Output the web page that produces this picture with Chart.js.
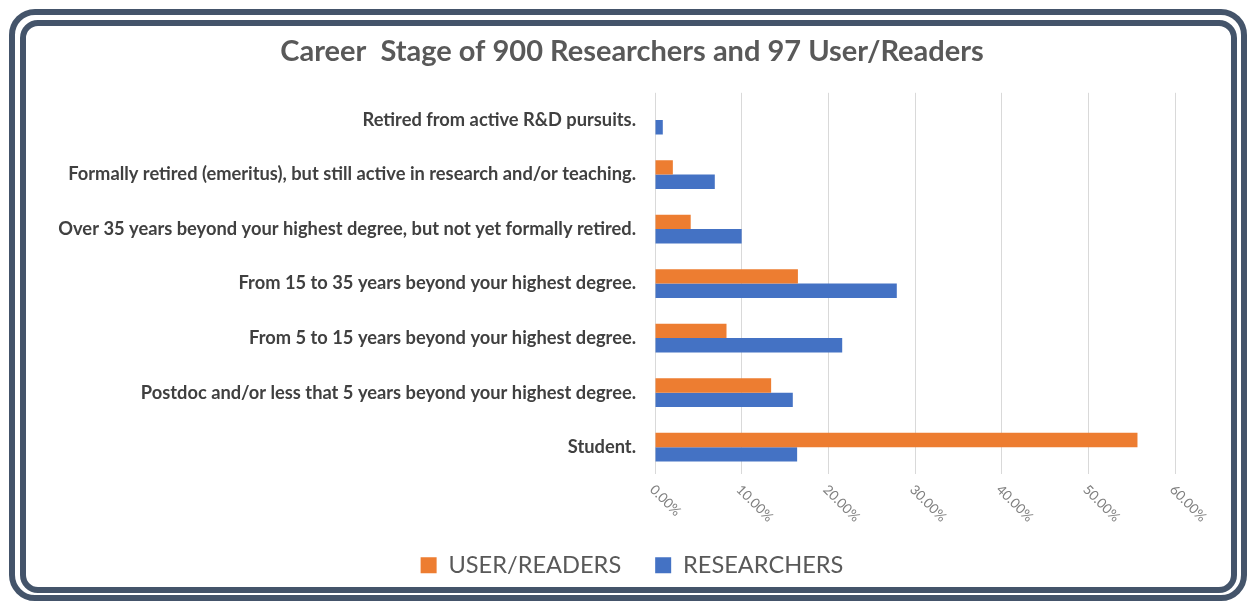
<!DOCTYPE html>
<html>
<head>
<meta charset="utf-8">
<script src="https://cdn.jsdelivr.net/npm/chart.js@4.4.1/dist/chart.umd.min.js"></script>
<style>
  html, body { margin: 0; padding: 0; background: #ffffff; width: 1251px; height: 601px; overflow: hidden; }
  #c { position: absolute; left: 0; top: 0; }
  .frame { position: absolute; box-sizing: border-box; border: 6px solid #44546a; pointer-events: none; }
  #outer { left: 9px; top: 9px; width: 1238px; height: 592px; border-radius: 26px; }
  #inner { left: 20px; top: 20px; width: 1217px; height: 573px; border-radius: 18px; }
</style>
</head>
<body>
<canvas id="c" width="1251" height="601"></canvas>
<div class="frame" id="outer"></div>
<div class="frame" id="inner"></div>
<script>
const categories = [
  "Retired from active R&D pursuits.",
  "Formally retired (emeritus), but still active in research and/or teaching.",
  "Over 35 years beyond your highest degree, but not yet formally retired.",
  "From 15 to 35 years beyond your highest degree.",
  "From 5 to 15 years beyond your highest degree.",
  "Postdoc and/or less that 5 years beyond your highest degree.",
  "Student."
];
const userReaders = [0, 2.06, 4.12, 16.49, 8.25, 13.40, 55.67];
const researchers = [0.9, 6.9, 10.0, 27.9, 21.6, 15.9, 16.4];
const tickValues = [0, 10, 20, 30, 40, 50, 60];
const tickLabels = ["0.00%", "10.00%", "20.00%", "30.00%", "40.00%", "50.00%", "60.00%"];
const titleText = "Career  Stage of 900 Researchers and 97 User/Readers";

const FONT = "Lato, 'Open Sans', sans-serif";

const rotatedTicks = {
  id: 'rotatedTicks',
  afterDraw(chart) {
    const xs = chart.scales.x;
    const ctx = chart.ctx;
    ctx.save();
    ctx.font = "13.5px " + FONT;
    ctx.fillStyle = "#7f7f7f";
    ctx.textAlign = "left";
    ctx.textBaseline = "middle";
    tickValues.forEach((v, i) => {
      const x = xs.getPixelForValue(v);
      ctx.save();
      ctx.translate(x - 3, chart.chartArea.bottom + 13);
      ctx.rotate(Math.PI / 4);
      ctx.fillText(tickLabels[i], 0, 0);
      ctx.restore();
    });
    ctx.restore();
  }
};

new Chart(document.getElementById('c'), {
  type: 'bar',
  data: {
    labels: categories,
    datasets: [
      { label: 'USER/READERS', data: userReaders, backgroundColor: '#ED7D31', borderWidth: 0,
        categoryPercentage: 0.53, barPercentage: 1.0 },
      { label: 'RESEARCHERS', data: researchers, backgroundColor: '#4472C4', borderWidth: 0,
        categoryPercentage: 0.53, barPercentage: 1.0 }
    ]
  },
  options: {
    indexAxis: 'y',
    responsive: false,
    animation: false,
    devicePixelRatio: 1,
    layout: { padding: { left: 38, right: 25, top: 26, bottom: 14 } },
    plugins: {
      tooltip: { enabled: false },
      title: {
        display: true,
        text: titleText,
        color: '#595959',
        font: { family: FONT, size: 29, weight: 'bold' },
        padding: { top: 8, bottom: 24 }
      },
      legend: {
        display: true,
        position: 'bottom',
        labels: {
          boxWidth: 16, boxHeight: 16,
          color: '#595959',
          font: { family: FONT, size: 23.6 },
          padding: 34
        }
      }
    },
    scales: {
      x: {
        min: 0, max: 60,
        ticks: { display: false, stepSize: 10 },
        grid: { color: '#d9d9d9', lineWidth: 1, drawTicks: false },
        border: { display: false },
        afterFit(s) { s.height = 45; }
      },
      y: {
        ticks: {
          color: '#404040',
          font: { family: FONT, size: 18.3, weight: 'bold' },
          padding: 19,
          autoSkip: false
        },
        grid: { display: false, drawTicks: false },
        border: { display: false },
        afterFit(s) { s.width = 617; }
      },
      yRight: {
        axis: 'y',
        type: 'linear',
        position: 'right',
        display: true,
        ticks: { display: false },
        grid: { display: false, drawTicks: false },
        border: { display: false },
        afterFit(s) { s.width = 51; }
      }
    }
  },
  plugins: [rotatedTicks]
});
</script>
</body>
</html>
